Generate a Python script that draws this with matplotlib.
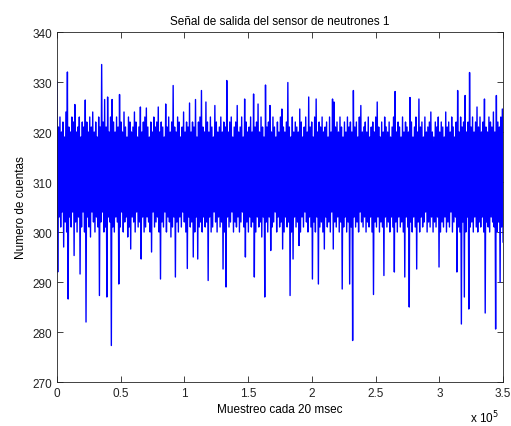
import numpy as np
import matplotlib
matplotlib.use("Agg")
import matplotlib.pyplot as plt

# envolvente: picos altos y bajos alternados
picos_altos = [
    330, 321, 323, 320, 322, 319, 324, 332, 321, 320, 323, 322, 325.5, 320, 321, 323, 319, 322, 321, 326.4,
    322, 320, 323, 321, 324, 320, 322, 319, 323, 321, 333.5, 322, 326.5, 321, 327, 320, 323, 326.5, 322, 320,
    323, 321, 327.5, 322, 320, 324, 321, 319, 323, 322, 320, 321, 324, 322, 319, 321, 325, 320, 322, 323,
    324.8, 321, 319, 322, 320, 323, 321, 322, 325, 320, 322, 321, 319, 325.6, 321, 323, 320, 322, 329.3, 321,
    320, 323, 322, 319, 321, 324, 320, 322, 321, 325.8, 320, 322, 321, 326.5, 319, 322, 323, 328.3, 321, 320,
    326, 322, 320, 323, 321, 319, 325.3, 322, 320, 321, 323, 320, 322, 321, 330.3, 320, 322, 323, 319, 321,
    322, 325.3, 320, 321, 323, 319, 326.6, 322, 320, 321, 323, 320, 327.6, 321, 322, 325.6, 320, 323, 321, 319,
    329.4, 321, 322, 325.3, 320, 323, 321, 319, 322, 320, 323, 324.6, 321, 320, 322, 329.9, 321, 319, 323, 320,
    322, 321, 320, 324.6, 322, 319, 321, 323, 320, 327, 321, 322, 319, 323, 326.6, 320, 322, 321, 323, 320,
    321, 322, 319, 323, 320, 326.6, 326, 321, 322, 320, 323, 321, 319, 322, 320, 323, 321, 322, 320, 328.3,
    321, 322, 319, 323, 325.3, 320, 321, 322, 320, 323, 319, 321, 322, 320, 323, 326, 321, 319, 322, 320,
    323, 321, 320, 322, 319, 321, 323, 328.1, 320, 322, 321, 319, 323, 320, 322, 321, 320, 326.9, 322, 319,
    321, 323, 320, 326.6, 321, 322, 319, 323, 320, 321, 322, 324, 320, 319, 322, 321, 323, 320, 322, 321,
    319, 324, 321, 322, 320, 323, 321, 319, 322, 328.3, 320, 323, 321, 322, 327.3, 320, 322, 331.9, 321, 323,
    320, 322, 325, 321, 323, 320, 322, 326.6, 321, 320, 323, 322, 321, 324, 320, 327.3, 322, 321, 323, 324.6,
]
picos_bajos = [
    292, 303, 301, 304, 297, 302, 300, 286.6, 303, 301, 304, 295.3, 302, 300, 303, 291.6, 301, 304, 300, 282,
    303, 301, 299, 304, 302, 300, 303, 301, 287.3, 302, 304, 300, 301, 287, 303, 302, 277.3, 301, 300, 303,
    302, 289.6, 301, 304, 300, 302, 303, 299, 301, 296.6, 303, 302, 300, 304, 301, 302, 294.6, 303, 300, 301,
    303, 302, 300, 296, 304, 301, 302, 303, 300, 290.6, 302, 301, 304, 300, 303, 302, 299, 301, 303, 291,
    302, 300, 303, 301, 304, 302, 300, 292.7, 303, 301, 302, 295, 300, 303, 294.6, 301, 302, 300, 303, 301,
    302, 290.3, 303, 300, 301, 304, 302, 300, 303, 301, 302, 292.6, 300, 289, 303, 301, 302, 304, 300, 302,
    301, 303, 300, 302, 304, 301, 295, 302, 300, 303, 301, 302, 291, 300, 303, 301, 302, 299, 303, 287,
    302, 300, 303, 296.3, 301, 302, 304, 300, 303, 301, 302, 296.6, 300, 303, 301, 302, 287.3, 300, 294.6, 303,
    301, 302, 297.3, 300, 303, 301, 304, 302, 300, 303, 301, 290.6, 302, 300, 303, 289.6, 301, 302, 300, 296.6,
    303, 301, 302, 300, 304, 296.6, 302, 301, 303, 300, 302, 288.6, 301, 303, 300, 302, 289.6, 301, 278.3, 303,
    301, 302, 300, 304, 302, 301, 303, 300, 302, 301, 303, 300, 287.5, 302, 301, 303, 300, 302, 301, 291.3,
    303, 301, 302, 300, 303, 301, 292, 302, 300, 303, 301, 302, 300, 291, 303, 301, 285, 302, 300, 303,
    301, 292.6, 302, 300, 303, 301, 302, 304, 300, 302, 301, 303, 300, 302, 301, 303, 293, 300, 302, 301,
    303, 300, 302, 301, 304, 300, 302, 303, 292, 301, 300, 281.6, 302, 287, 300, 303, 284.6, 301, 302, 300,
    303, 301, 300, 302, 301, 303, 300, 283.8, 302, 301, 300, 303, 302, 301, 280.6, 300, 302, 290, 301, 298,
]
n_muestras = 350000
xticks = [0, 50000, 100000, 150000, 200000, 250000, 300000, 350000]
xtick_labels = ['0', '0.5', '1', '1.5', '2', '2.5', '3', '3.5']
yticks = [270, 280, 290, 300, 310, 320, 330, 340]

# intercalo alto/bajo
cuentas = np.empty(2 * len(picos_altos))
cuentas[0::2] = picos_altos
cuentas[1::2] = picos_bajos
muestras = np.arange(len(cuentas)) * n_muestras / (len(cuentas) - 1)

plt.rcParams['font.family'] = ['Liberation Sans', 'DejaVu Sans']
plt.rcParams['font.size'] = 8
plt.rcParams['path.simplify'] = False

fig = plt.figure(figsize=(5.11, 4.27), dpi=100)
ax = fig.add_axes([0.1115, 0.103, 0.873, 0.8197])
ax.plot(muestras, cuentas, color=(0, 0, 1), lw=1.0)

ax.set_xlim(0, n_muestras)
ax.set_ylim(270, 340)
ax.set_xticks(xticks)
ax.set_xticklabels(xtick_labels)
ax.set_yticks(yticks)
ax.tick_params(direction='in', top=True, right=True, length=4, width=0.6, labelsize=8.5, colors='#222222')
for s in ax.spines.values():
    s.set_linewidth(0.6)
    s.set_color('#222222')

ax.set_title('Señal de salida del sensor de neutrones 1', fontsize=8.5, pad=6)
ax.set_xlabel('Muestreo cada 20 msec', fontsize=8.5, labelpad=3)
ax.set_ylabel('Numero de cuentas', fontsize=8.5, labelpad=4)
fig.text(0.92, 0.008, r'x 10$^5$', fontsize=8.5)

fig.savefig('out.png', dpi=100)
